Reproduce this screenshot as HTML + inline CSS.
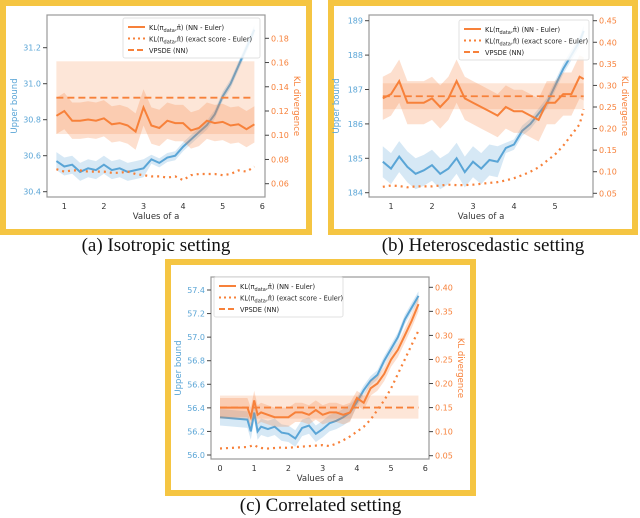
<!DOCTYPE html>
<html><head><meta charset="utf-8"><style>
body{margin:0;background:#fff;width:640px;height:518px;overflow:hidden;position:relative;font-family:"DejaVu Sans","Liberation Sans",sans-serif}
.frame{position:absolute;border:6px solid #f5c542;box-sizing:border-box;background:#fff}
.cap{position:absolute;font-family:"Liberation Serif",serif;font-size:19px;color:#111;text-align:center;white-space:nowrap}
svg{position:absolute;left:0;top:0}
</style></head><body>
<div class="frame" style="left:0;top:0;width:312px;height:235px"></div>
<div class="frame" style="left:328px;top:0;width:310px;height:235px"></div>
<div class="frame" style="left:165px;top:259px;width:311px;height:237px"></div>
<div class="cap" style="left:0;width:312px;top:235px">(a) Isotropic setting</div>
<div class="cap" style="left:328px;width:310px;top:235px">(b) Heteroscedastic setting</div>
<div class="cap" style="left:165px;width:311px;top:495px">(c) Correlated setting</div>
<svg id="s" width="640" height="518"></svg>
<script>
// Panel A data
const xA=[0.8,1.0,1.2,1.4,1.6,1.8,2.0,2.2,2.4,2.6,2.8,3.0,3.2,3.4,3.6,3.8,4.0,4.2,4.4,4.6,4.8,5.0,5.2,5.4,5.6,5.8];
const blueA=[30.57,30.54,30.55,30.51,30.53,30.52,30.55,30.52,30.53,30.51,30.52,30.53,30.58,30.56,30.59,30.60,30.65,30.69,30.73,30.77,30.83,30.93,31.00,31.10,31.20,31.30];
const orangeA=[0.116,0.120,0.112,0.112,0.113,0.112,0.114,0.109,0.110,0.108,0.103,0.123,0.108,0.106,0.112,0.110,0.110,0.104,0.106,0.112,0.110,0.111,0.108,0.109,0.105,0.109];
const dotA=[0.072,0.070,0.071,0.071,0.070,0.070,0.070,0.069,0.069,0.070,0.068,0.067,0.066,0.066,0.065,0.066,0.063,0.067,0.068,0.068,0.068,0.067,0.068,0.071,0.070,0.074];
const dashA=0.131, rectA=[0.101,0.161];
const yTicksA=[30.4,30.6,30.8,31.0,31.2], rTicksA=[0.06,0.08,0.10,0.12,0.14,0.16,0.18], xTicksA=[1,2,3,4,5,6];
// Panel B data
const xB=[0.8,1.0,1.2,1.4,1.6,1.8,2.0,2.2,2.4,2.6,2.8,3.0,3.2,3.4,3.6,3.8,4.0,4.2,4.4,4.6,4.8,5.0,5.2,5.4,5.6,5.7];
const blueB=[184.9,184.7,185.05,184.75,184.55,184.65,184.8,184.55,184.7,185.0,184.6,184.9,184.7,184.95,184.9,185.3,185.4,185.8,186.0,186.3,186.6,187.1,187.6,188.0,188.4,188.7];
const orangeB=[0.27,0.28,0.31,0.26,0.26,0.26,0.27,0.25,0.27,0.31,0.27,0.26,0.25,0.24,0.23,0.25,0.24,0.24,0.23,0.22,0.26,0.26,0.28,0.28,0.32,0.315];
const dotB=[0.065,0.068,0.067,0.064,0.066,0.066,0.066,0.068,0.070,0.069,0.069,0.070,0.072,0.074,0.076,0.080,0.085,0.092,0.100,0.110,0.125,0.140,0.160,0.185,0.210,0.245];
const dashB=0.275, rectB=[0.245,0.305];
const yTicksB=[184,185,186,187,188,189], rTicksB=[0.05,0.10,0.15,0.20,0.25,0.30,0.35,0.40,0.45], xTicksB=[1,2,3,4,5];
// Panel C data
const xC=[0,0.8,0.9,1.0,1.1,1.2,1.4,1.6,1.8,2.0,2.2,2.4,2.6,2.8,3.0,3.2,3.4,3.6,3.8,4.0,4.2,4.4,4.6,4.8,5.0,5.2,5.4,5.6,5.8];
const blueC=[56.32,56.30,56.20,56.36,56.20,56.24,56.22,56.24,56.19,56.18,56.14,56.23,56.25,56.18,56.22,56.27,56.29,56.32,56.36,56.45,56.55,56.63,56.68,56.80,56.90,57.00,57.15,57.25,57.35];
const orangeC=[0.15,0.15,0.13,0.165,0.135,0.14,0.135,0.13,0.13,0.13,0.14,0.14,0.135,0.145,0.135,0.14,0.14,0.135,0.14,0.17,0.16,0.19,0.20,0.22,0.25,0.27,0.30,0.33,0.365];
const dotC=[0.065,0.068,0.070,0.072,0.068,0.066,0.065,0.066,0.067,0.066,0.068,0.069,0.070,0.071,0.072,0.070,0.075,0.082,0.090,0.100,0.110,0.125,0.145,0.165,0.190,0.220,0.250,0.280,0.310];
const dashC=0.15, rectC=[0.127,0.175];
const yTicksC=[56.0,56.2,56.4,56.6,56.8,57.0,57.2,57.4], rTicksC=[0.05,0.10,0.15,0.20,0.25,0.30,0.35,0.40], xTicksC=[0,1,2,3,4,5,6];

const NS='http://www.w3.org/2000/svg', svg=document.getElementById('s');
const BLUE='#5aa5d6', ORANGE='#f7813a';
function mk(tag,attrs,parent){const e=document.createElementNS(NS,tag);for(const k in attrs)e.setAttribute(k,attrs[k]);(parent||svg).appendChild(e);return e;}
function panel(id,P,xs,blue,bw,orange,ow,dots,dash,rect,yT,rT,xT,dec,rdec,leg){
  const g=mk('g',{});
  
  
  const X=v=>P.xp0+(v-P.xv0)*(P.xp1-P.xp0)/(P.xv1-P.xv0);
  const YL=v=>P.yp0+(v-P.yv0)*(P.yp1-P.yp0)/(P.yv1-P.yv0);
  const YR=v=>P.rp0+(v-P.rv0)*(P.rp1-P.rp0)/(P.rv1-P.rv0);
  const pts=(ys,f,o)=>xs.map((x,i)=>X(x).toFixed(1)+','+f(ys[i]+(o?o(i):0)).toFixed(1));
  const bb=mk('polygon',{points:pts(blue,YL,i=>bw[i]).concat(pts(blue,YL,i=>-bw[i]).reverse()).join(' '),fill:BLUE,opacity:0.25},g);
  
  
  const bl=mk('polyline',{points:pts(blue,YL).join(' '),fill:'none',stroke:BLUE,'stroke-width':2},g);
  
  
  const rb=mk('rect',{x:X(xs[0]),y:YR(rect[1]),width:X(xs[xs.length-1])-X(xs[0]),height:YR(rect[0])-YR(rect[1]),fill:ORANGE,opacity:0.2},g);
  
  
  const ob=mk('polygon',{points:pts(orange,YR,i=>ow[i]).concat(pts(orange,YR,i=>-ow[i]).reverse()).join(' '),fill:ORANGE,opacity:0.25},g);
  
  
  const ol=mk('polyline',{points:pts(orange,YR).join(' '),fill:'none',stroke:ORANGE,'stroke-width':2},g);
  
  
  const dl=mk('polyline',{points:pts(dots,YR).join(' '),fill:'none',stroke:ORANGE,'stroke-width':2.2,'stroke-dasharray':'2 4'},g);
  
  
  const dd=mk('line',{x1:X(xs[0]),x2:X(xs[xs.length-1]),y1:YR(dash),y2:YR(dash),stroke:ORANGE,'stroke-width':1.8,'stroke-dasharray':'7 4'},g);
  
  
  const sp=mk('rect',{x:P.L,y:P.T,width:P.R-P.L,height:P.B-P.T,fill:'none',stroke:'#999','stroke-width':1.2},g);
  
  
  yT.forEach(v=>{const y=YL(v);mk('line',{x1:P.L-4,x2:P.L,y1:y,y2:y,stroke:'#444'},g);
    const t=mk('text',{x:P.L-6,y:y+3,'text-anchor':'end','font-size':8,fill:BLUE},g);t.textContent=v.toFixed(dec);
    
    });
  rT.forEach(v=>{const y=YR(v);mk('line',{x1:P.R,x2:P.R+4,y1:y,y2:y,stroke:'#444'},g);
    const t=mk('text',{x:P.R+6,y:y+3,'font-size':8,fill:ORANGE},g);t.textContent=v.toFixed(rdec);
    
    });
  xT.forEach(v=>{const t=mk('text',{x:X(v),y:P.B+12,'text-anchor':'middle','font-size':8,fill:'#333'},g);t.textContent=v;
    
    });
  const xl=mk('text',{x:(P.L+P.R)/2,y:P.B+22,'text-anchor':'middle','font-size':8.5,fill:'#333'},g);xl.textContent='Values of a';
  
  
  const yl=mk('text',{transform:`translate(${P.L-30},${(P.T+P.B)/2}) rotate(-90)`,'text-anchor':'middle','font-size':8.5,fill:BLUE},g);yl.textContent='Upper bound';
  
  
  const rl=mk('text',{transform:`translate(${P.R+29},${(P.T+P.B)/2}) rotate(90)`,'text-anchor':'middle','font-size':8.5,fill:ORANGE},g);rl.textContent='KL divergence';
  
  
  const lg=mk('g',{},g);
  
  
  mk('rect',{x:leg[0],y:leg[1],width:leg[2],height:40,fill:'#fff',opacity:0.85,stroke:'#ddd',rx:2},lg);
  const items=[['', 'KL(π','data',',π̂) (NN - Euler)'],['2 3','KL(π','data',',π̂) (exact score - Euler)'],['6 3','VPSDE (NN)']];
  items.forEach((it,k)=>{const y=leg[1]+9+k*11.5;
    mk('line',{x1:leg[0]+5,x2:leg[0]+22,y1:y,y2:y,stroke:ORANGE,'stroke-width':2,'stroke-dasharray':it[0]||'none'},lg);
    const t=mk('text',{x:leg[0]+26,y:y+3,'font-size':6.6,fill:'#222'},lg);
    if(it.length>3){t.appendChild(document.createTextNode(it[1]));const s=mk('tspan',{'font-size':5,dy:2},t);s.textContent=it[2];const r=mk('tspan',{dy:-2},t);r.textContent=it[3];}
    else t.textContent=it[1];
    
    });
}
const cst=(n,v)=>Array(n).fill(v);
panel('panel-a',{L:47,R:265,T:15,B:197,xp0:64.3,xp1:262.3,xv0:1,xv1:6,yp0:191.7,yp1:47.7,yv0:30.4,yv1:31.2,rp0:183.7,rp1:38.3,rv0:0.06,rv1:0.18},
  xA,blueA,blueA.map((v,i)=>i<12?0.05:0.025),orangeA,cst(26,0.015),dotA,dashA,rectA,yTicksA,rTicksA,xTicksA,1,2,[123,18,137]);
panel('panel-b',{L:369,R:593,T:15,B:197,xp0:391,xp1:555,xv0:1,xv1:5,yp0:192.7,yp1:20.7,yv0:184,yv1:189,rp0:193.3,rp1:20.7,rv0:0.05,rv1:0.45},
  xB,blueB,blueB.map((v,i)=>i<15?0.45:0.15),orangeB,cst(26,0.05),dotB,dashB,rectB,yTicksB,rTicksB,xTicksB,0,2,[459,20,130]);
panel('panel-c',{L:211,R:429,T:277,B:459,xp0:220,xp1:425.3,xv0:0,xv1:6,yp0:455,yp1:290,yv0:56.0,yv1:57.4,rp0:455.7,rp1:287.3,rv0:0.05,rv1:0.40},
  xC,blueC,blueC.map((v,i)=>i<19?0.07:0.04),orangeC,orangeC.map((v,i)=>i<19?0.02:0.015),dotC,dashC,rectC,yTicksC,rTicksC,xTicksC,1,2,[214,277,129]);
</script>
</body></html>
